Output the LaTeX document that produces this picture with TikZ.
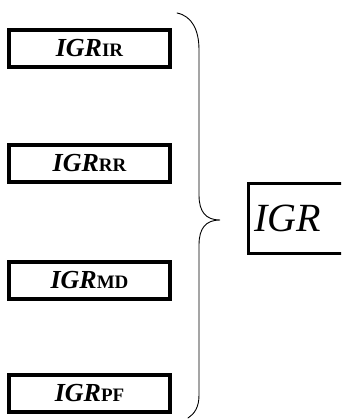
\documentclass[tikz,border=0pt]{standalone}
\usepackage{fontspec}
\setmainfont{Liberation Serif}
\begin{document}
\begin{tikzpicture}[x=1pt,y=-1pt,
  smallbox/.style={draw=black,line width=4pt,minimum width=161pt,minimum height=37pt,inner sep=0pt},
  bigbox/.style={draw=black,line width=3pt,minimum width=110pt,minimum height=70pt,inner sep=0pt},
  lbl/.style={font=\fontsize{26pt}{28pt}\selectfont\bfseries}]
\useasboundingbox (0,0) rectangle (341,419);
\clip (0,0) rectangle (341,419);
\newcommand{\lab}[1]{\textit{IGR}{\fontsize{19pt}{21pt}\selectfont #1}}
\node[smallbox,lbl] (ir) at (89.5,48.5) {\lab{IR}};
\node[smallbox,lbl] (rr) at (89.5,163.5) {\lab{RR}};
\node[smallbox,lbl] (md) at (89.5,280) {\lab{MD}};
\node[smallbox,lbl] (pf) at (89.5,393) {\lab{PF}};
\node[bigbox] (igr) at (303.5,218.5) {};
\node[anchor=west,inner sep=0pt,font=\fontsize{40pt}{42pt}\selectfont\itshape] (igrlabel) at (254,218.5) {IGR};
\draw[line width=0.9pt,line cap=round]
  (177,13) .. controls (192,16) and (199,30) .. (199,50)
  -- (199,195) .. controls (199,212) and (206,220) .. (220,220)
  .. controls (206,220) and (199,228) .. (199,245)
  -- (199,395) .. controls (199,408) and (194,414) .. (188,418);
\end{tikzpicture}
\end{document}
